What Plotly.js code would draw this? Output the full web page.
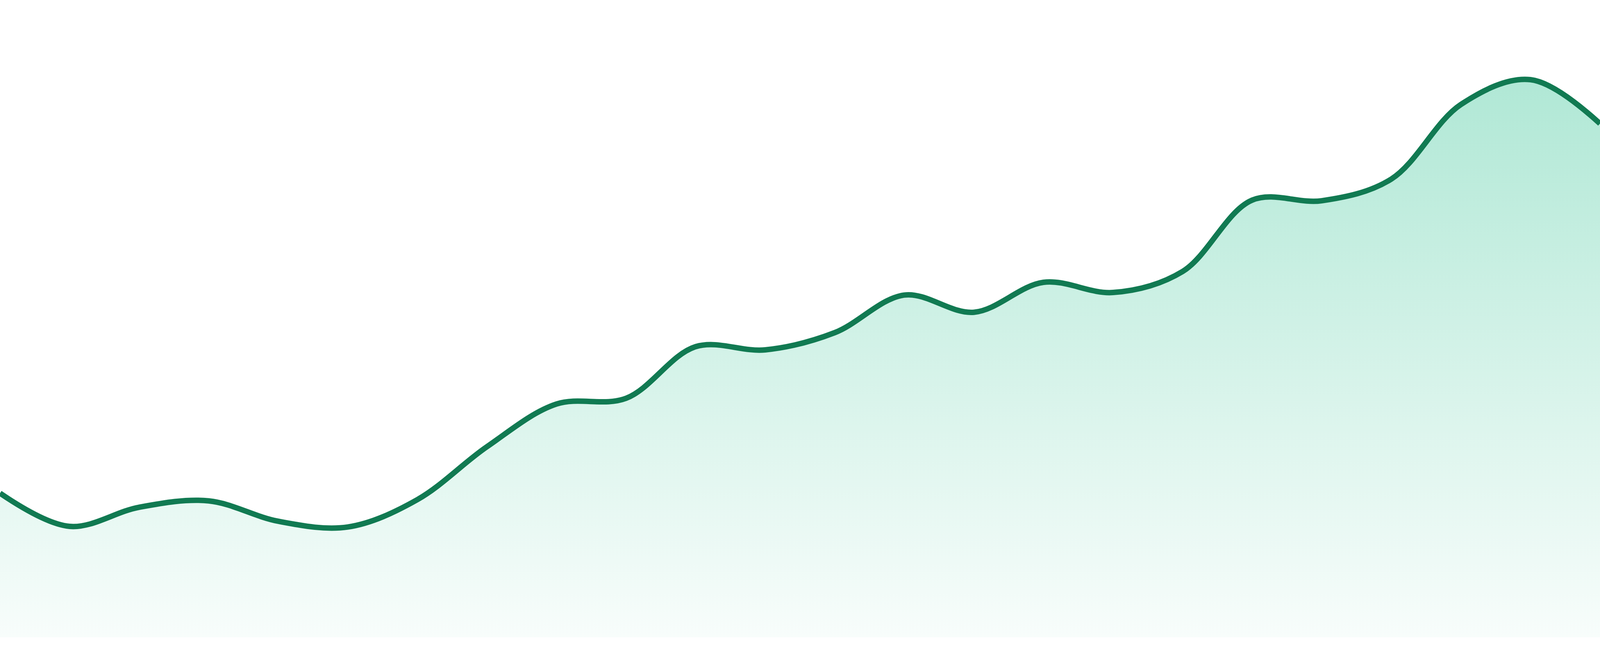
<!DOCTYPE html>
<html>
<head>
<meta charset="utf-8">
<script src="https://cdn.plot.ly/plotly-3.0.1.min.js"></script>
<style>
  html, body { margin: 0; padding: 0; background: #ffffff; overflow: hidden; width: 100%; height: 100%; }
  #chart { position: absolute; left: 0; top: 0; width: 100vw; height: 100vh; }
</style>
</head>
<body>
<div id="chart"></div>
<script>
// Data (24 evenly spaced points)
const periods = [0, 1, 2, 3, 4, 5, 6, 7, 8, 9, 10, 11, 12, 13, 14, 15, 16, 17, 18, 19, 20, 21, 22, 23];
const values = [22.6, 17.4, 20.4, 21.4, 18.2, 17.3, 21.6, 29.9, 36.6, 37.5, 45.6, 45.1,
                47.8, 53.7, 51.0, 55.7, 54.1, 57.4, 68.6, 68.5, 71.9, 83.6, 87.5, 80.6];
const yRange = [0, 100];

const W = window.innerWidth || document.documentElement.clientWidth;
const H = window.innerHeight || document.documentElement.clientHeight;
const k = H / 1680;               // reference was 1680 px tall

const trace = {
  x: periods,
  y: values,
  type: 'scatter',
  mode: 'lines',
  line: { color: '#117a52', width: 14 * k, shape: 'spline', smoothing: 1 },
  fill: 'tozeroy',
  fillgradient: {
    type: 'vertical',
    start: 0,
    stop: Math.max(...values),
    colorscale: [
      [0, 'rgba(16,185,129,0.03)'],
      [1, 'rgba(16,185,129,0.33)']
    ]
  },
  hoverinfo: 'skip'
};

const layout = {
  width: W,
  height: H,
  margin: { l: 0, r: 0, t: 0, b: 48 * k, pad: 0 },
  paper_bgcolor: '#ffffff',
  plot_bgcolor: '#ffffff',
  showlegend: false,
  xaxis: {
    range: [periods[0], periods[periods.length - 1]],
    visible: false, showgrid: false, zeroline: false, fixedrange: true
  },
  yaxis: {
    range: yRange,
    visible: false, showgrid: false, zeroline: false, fixedrange: true
  }
};

Plotly.newPlot('chart', [trace], layout, { staticPlot: true, displayModeBar: false });
</script>
</body>
</html>
